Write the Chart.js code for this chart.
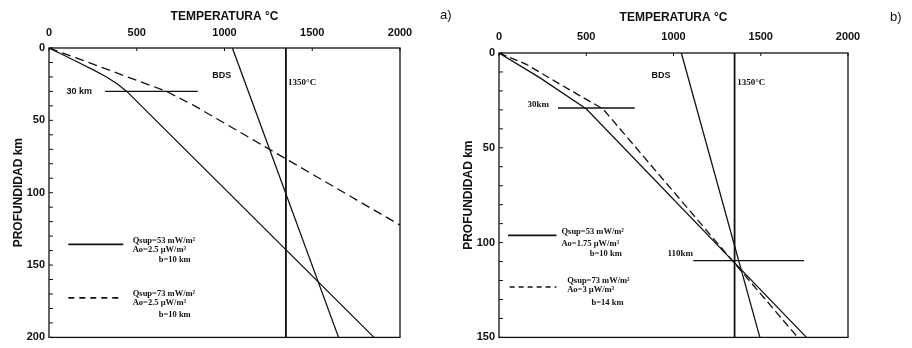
<!DOCTYPE html>
<html>
<head>
<meta charset="utf-8">
<script src="https://cdn.jsdelivr.net/npm/chart.js@4.4.0/dist/chart.umd.min.js"></script>
<style>
  html, body { margin: 0; padding: 0; background: #fff; }
  #wrap { position: relative; width: 912px; height: 348px; }
  canvas { position: absolute; top: 0; }
</style>
</head>
<body>
<div id="wrap">
  <canvas id="chartA" width="456" height="348" style="left:0"></canvas>
  <canvas id="chartB" width="456" height="348" style="left:456px"></canvas>
</div>
<script>
// axes
const tempMin = 0, tempMax = 2000, tempStep = 500;
const depthMaxA = 200, depthMaxB = 150;

// panel a) geotherms (depth km -> temperature °C)
const depthA53 = [0, 5, 10, 15, 20, 25, 30, 40, 200];
const tempA53  = [0, 85, 168, 250, 328, 392, 443, 526, 1852];
const depthA73 = [0, 10, 20, 30, 40, 122.4];
const tempA73  = [0, 225, 448, 670, 830, 2000];
const depthBdsA = [0, 200];
const tempBdsA  = [1045, 1650];
const depthIsoA = [0, 200];
const tempIsoA  = [1350, 1350];
const depthRefA = [30, 30];
const tempRefA  = [320, 848];

// panel b)
const depthB53 = [0, 13, 29.5, 150];
const tempB53  = [0, 233, 501, 1762];
const depthB73 = [0, 6, 17.4, 29.5, 150];
const tempB73  = [0, 157, 367, 596, 1712];
const depthBdsB = [0, 150];
const tempBdsB  = [1045, 1495];
const depthIsoB = [0, 150];
const tempIsoB  = [1350, 1350];
const depthRefB1 = [29, 29];
const tempRefB1  = [338, 778];
const depthRefB2 = [109.5, 109.5];
const tempRefB2  = [1113, 1748];

const SANS = '"Liberation Sans", Arial, sans-serif';
const SERIF = '"Liberation Serif", "Times New Roman", serif';
const INK = '#111';

function pts(temps, depths) {
  return depths.map((d, i) => ({ x: temps[i], y: d }));
}

function line(temps, depths, extra) {
  return Object.assign({
    data: pts(temps, depths),
    showLine: true,
    borderColor: INK,
    borderWidth: 1.3,
    pointRadius: 0,
    fill: false
  }, extra || {});
}

// frame, inward ticks, text labels and the little legend
const paperPlugin = {
  id: 'paper',
  afterDatasetsDraw(chart, args, opts) {
    const { ctx, chartArea: a, scales: { x, y } } = chart;
    ctx.save();
    ctx.strokeStyle = INK;
    ctx.lineWidth = 1.3;
    ctx.strokeRect(a.left, a.top, a.right - a.left, a.bottom - a.top);

    ctx.lineWidth = 1;
    y.ticks.forEach(t => {
      const py = y.getPixelForValue(t.value);
      ctx.beginPath(); ctx.moveTo(a.left, py); ctx.lineTo(a.left + 4, py); ctx.stroke();
    });
    x.ticks.forEach(t => {
      const px = x.getPixelForValue(t.value);
      ctx.beginPath(); ctx.moveTo(px, a.top); ctx.lineTo(px, a.top + 3); ctx.stroke();
    });

    ctx.fillStyle = INK;
    ctx.textBaseline = 'middle';
    ctx.textAlign = 'left';
    (opts.labels || []).forEach(l => {
      ctx.font = l.font;
      ctx.fillText(l.text, x.getPixelForValue(l.t), y.getPixelForValue(l.d));
    });

    (opts.keys || []).forEach(k => {
      ctx.setLineDash(k.dash || []);
      ctx.lineWidth = 1.6;
      const py = y.getPixelForValue(k.d);
      ctx.beginPath();
      ctx.moveTo(x.getPixelForValue(k.t0), py);
      ctx.lineTo(x.getPixelForValue(k.t1), py);
      ctx.stroke();
    });
    ctx.setLineDash([]);

    if (opts.tag) {
      ctx.font = '13px ' + SANS;
      ctx.fillText(opts.tag.text, opts.tag.x, opts.tag.y);
    }
    ctx.restore();
  }
};

function makeChart(id, cfg) {
  return new Chart(document.getElementById(id), {
    type: 'scatter',
    data: { datasets: cfg.datasets },
    options: {
      responsive: false,
      animation: false,
      layout: { padding: cfg.padding },
      plugins: {
        legend: { display: false },
        tooltip: { enabled: false },
        paper: cfg.paper
      },
      scales: {
        x: {
          type: 'linear',
          position: 'top',
          min: tempMin,
          max: tempMax,
          grid: { display: false, drawTicks: false },
          border: { display: false },
          ticks: {
            stepSize: tempStep,
            padding: cfg.xTickPad,
            color: INK,
            font: { family: SANS, size: 11, weight: 'bold' },
            callback: v => String(v)
          },
          title: {
            display: true,
            text: 'TEMPERATURA °C',
            color: INK,
            font: { family: SANS, size: 12, weight: 'bold' },
            padding: { top: cfg.xTitlePad, bottom: 0 }
          },
          afterFit: s => { s.height = cfg.xHeight; }
        },
        y: {
          type: 'linear',
          reverse: true,
          min: 0,
          max: cfg.depthMax,
          grid: { display: false, drawTicks: false },
          border: { display: false },
          ticks: {
            stepSize: 10,
            autoSkip: false,
            padding: 4,
            color: INK,
            font: { family: SANS, size: 11, weight: 'bold' },
            callback: v => (v % 50 === 0 ? String(v) : '')
          },
          title: {
            display: true,
            text: 'PROFUNDIDAD km',
            color: INK,
            font: { family: SANS, size: 12, weight: 'bold' },
            padding: { top: cfg.yTitlePad, bottom: 0 }
          },
          afterFit: s => { s.width = cfg.yWidth; }
        }
      }
    },
    plugins: [paperPlugin]
  });
}

const legendFont = 'bold 8.5px ' + SERIF;
const noteSans = 'bold 9px ' + SANS;
const noteSerif = 'bold 9px ' + SERIF;

makeChart('chartA', {
  depthMax: depthMaxA,
  padding: { left: 0, top: 0, right: 56, bottom: 9 },
  xHeight: 48, yWidth: 49, xTickPad: 8, xTitlePad: 9, yTitlePad: 11,
  datasets: [
    line(tempA53, depthA53),
    line(tempA73, depthA73, { borderDash: [9, 5] }),
    line(tempBdsA, depthBdsA),
    line(tempIsoA, depthIsoA, { borderWidth: 1.8 }),
    line(tempRefA, depthRefA)
  ],
  paper: {
    tag: { text: 'a)', x: 440, y: 15 },
    labels: [
      { text: '30 km', t: 100, d: 30, font: noteSans },
      { text: 'BDS', t: 930, d: 19, font: noteSans },
      { text: '1350°C', t: 1362, d: 24, font: noteSerif },
      { text: 'Qsup=53 mW/m²', t: 477, d: 133, font: legendFont },
      { text: 'Ao=2.5 μW/m³', t: 477, d: 139.5, font: legendFont },
      { text: 'b=10 km', t: 625, d: 146.4, font: legendFont },
      { text: 'Qsup=73 mW/m²', t: 477, d: 170.1, font: legendFont },
      { text: 'Ao=2.5 μW/m³', t: 477, d: 176.3, font: legendFont },
      { text: 'b=10 km', t: 625, d: 184.2, font: legendFont }
    ],
    keys: [
      { t0: 110, t1: 423, d: 135.7 },
      { t0: 110, t1: 420, d: 172.7, dash: [6, 5] }
    ]
  }
});

makeChart('chartB', {
  depthMax: depthMaxB,
  padding: { left: 0, top: 0, right: 64, bottom: 8 },
  xHeight: 53, yWidth: 43, xTickPad: 9.5, xTitlePad: 10, yTitlePad: 5,
  datasets: [
    line(tempB53, depthB53),
    line(tempB73, depthB73, { borderDash: [8, 4] }),
    line(tempBdsB, depthBdsB),
    line(tempIsoB, depthIsoB, { borderWidth: 1.8 }),
    line(tempRefB1, depthRefB1),
    line(tempRefB2, depthRefB2)
  ],
  paper: {
    tag: { text: 'b)', x: 434, y: 17 },
    labels: [
      { text: '30km', t: 164, d: 27.5, font: noteSerif },
      { text: 'BDS', t: 874, d: 12, font: noteSans },
      { text: '1350°C', t: 1365, d: 15.4, font: noteSerif },
      { text: '110km', t: 966, d: 106, font: noteSerif },
      { text: 'Qsup=53 mW/m²', t: 358, d: 94.3, font: legendFont },
      { text: 'Ao=1.75 μW/m³', t: 358, d: 100.4, font: legendFont },
      { text: 'b=10 km', t: 520, d: 106.1, font: legendFont },
      { text: 'Qsup=73 mW/m²', t: 391, d: 120, font: legendFont },
      { text: 'Ao=3 μW/m³', t: 391, d: 124.7, font: legendFont },
      { text: 'b=14 km', t: 530, d: 132, font: legendFont }
    ],
    keys: [
      { t0: 52, t1: 329, d: 96.2 },
      { t0: 61, t1: 329, d: 123.4, dash: [5, 4] }
    ]
  }
});
</script>
</body>
</html>
